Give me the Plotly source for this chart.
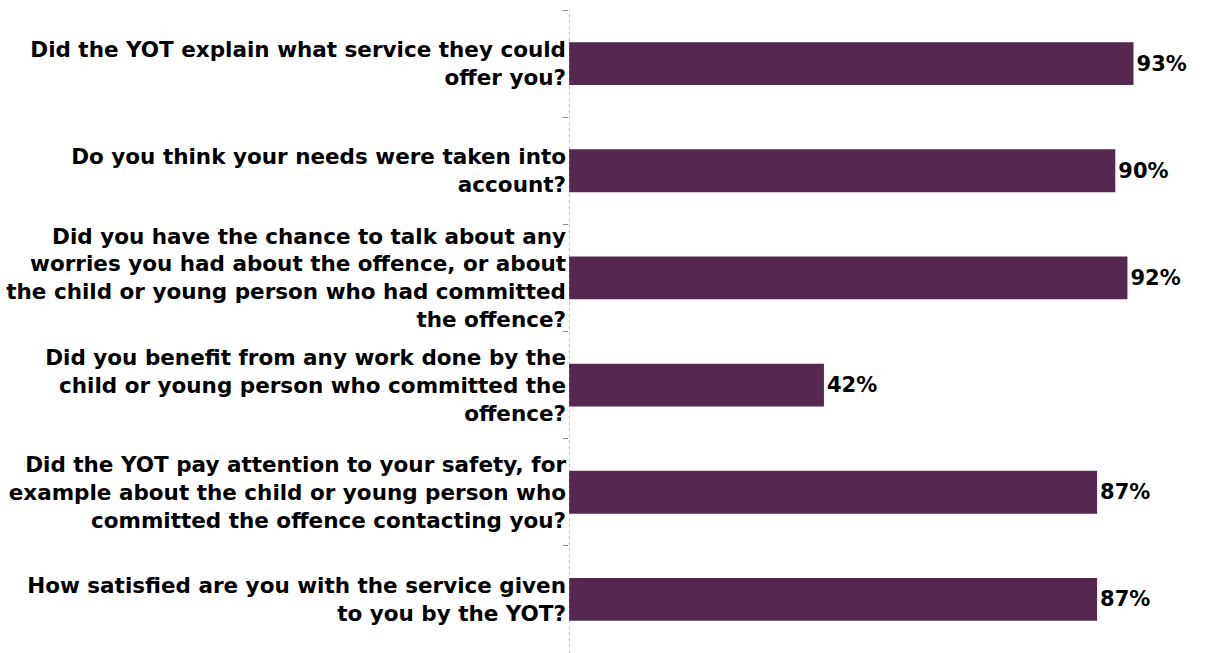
import plotly.graph_objects as go

questions = [
    "Did the YOT explain what service they could<br>offer you?",
    "Do you think your needs were taken into<br>account?",
    "Did you have the chance to talk about any<br>worries you had about the offence, or about<br>the child or young person who had committed<br>the offence?",
    "Did you benefit from any work done by the<br>child or young person who committed the<br>offence?",
    "Did the YOT pay attention to your safety, for<br>example about the child or young person who<br>committed the offence contacting you?",
    "How satisfied are you with the service given<br>to you by the YOT?",
]
percent_yes = [93, 90, 92, 42, 87, 87]
value_labels = [f"<b>{v}%</b>" for v in percent_yes]
tick_labels = [f"<b>{q}</b>" for q in questions]

FONT = "DejaVu Sans, Verdana, sans-serif"

fig = go.Figure(
    go.Bar(
        x=percent_yes,
        y=tick_labels,
        orientation="h",
        marker=dict(color="#55284f", line=dict(width=0)),
        text=value_labels,
        textposition="outside",
        textfont=dict(family=FONT, size=21, color="#000000"),
        cliponaxis=False,
    )
)

fig.update_layout(
    width=1209,
    height=653,
    margin=dict(l=569, r=33, t=10, b=0),
    paper_bgcolor="white",
    plot_bgcolor="white",
    bargap=0.6,
    showlegend=False,
    font=dict(family=FONT, size=21, color="#000000"),
    xaxis=dict(range=[0, 100], visible=False, showgrid=False, zeroline=False,
               automargin=False),
    yaxis=dict(
        autorange="reversed",
        automargin=False,
        tickson="boundaries",
        ticks="outside",
        ticklen=5,
        tickcolor="#888888",
        tickwidth=1,
        showline=False,
        showgrid=False,
        zeroline=False,
        ticklabelstandoff=2,
        tickfont=dict(family=FONT, size=21.5, color="#000000"),
    ),
    shapes=[
        dict(
            type="line",
            xref="x",
            yref="paper",
            x0=0,
            x1=0,
            y0=0,
            y1=1,
            line=dict(color="#888888", width=1, dash="dot"),
            layer="above",
        )
    ],
)

fig.write_html("out.html")
